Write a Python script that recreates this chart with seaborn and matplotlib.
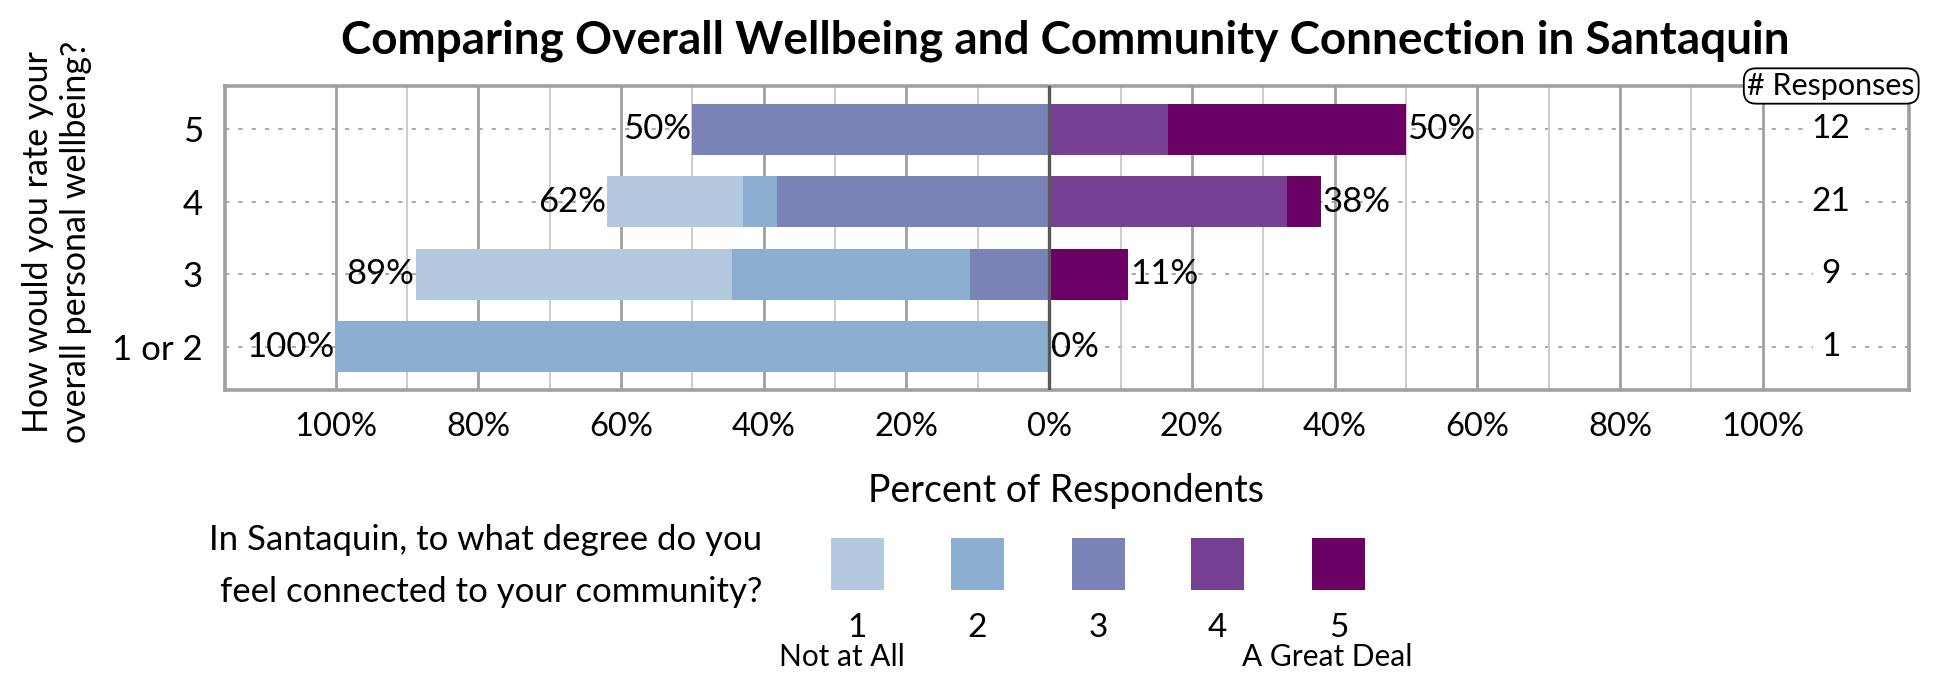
import matplotlib
matplotlib.use("Agg")
import matplotlib.pyplot as plt
import matplotlib.patches as mpatches
import seaborn as sns
import pandas as pd
import numpy as np

# ---- data ----
ratings = ["5", "4", "3", "1 or 2"]
pct_1 = [0.0, 19.0, 44.4, 0.0]
pct_2 = [0.0, 4.8, 33.3, 100.0]
pct_3 = [50.0, 38.1, 11.1, 0.0]
pct_4 = [16.7, 33.3, 0.0, 0.0]
pct_5 = [33.3, 4.8, 11.1, 0.0]
responses = [12, 21, 9, 1]
x_ticks = [-100, -80, -60, -40, -20, 0, 20, 40, 60, 80, 100]
legend_levels = ["1", "2", "3", "4", "5"]
colors = ["#B3C9E0", "#8CAED1", "#7A83B8", "#763F93", "#6B0065"]

title = "Comparing Overall Wellbeing and Community Connection in Santaquin"
ylabel = "How would you rate your\noverall personal wellbeing?"
xlabel = "Percent of Respondents"
legend_q = ["In Santaquin, to what degree do you", "feel connected to your community?"]

FONT = ["Lato", "DejaVu Sans"]
plt.rcParams["font.family"] = FONT

W, H = 1950, 675
fig = plt.figure(figsize=(W / 100, H / 100), dpi=100)
fx = lambda px: px / W
fy = lambda py: 1 - py / H

ax = fig.add_axes([fx(225), fy(390), (1909 - 225) / W, (390 - 86) / H])

df = pd.DataFrame({"rating": ratings, "p1": pct_1, "p2": pct_2, "p3": pct_3,
                   "p4": pct_4, "p5": pct_5})
df["neg1"] = -(df.p1 + df.p2 + df.p3)
df["neg2"] = -(df.p2 + df.p3)
df["neg3"] = -df.p3
df["pos5"] = df.p4 + df.p5
df["pos4"] = df.p4

layers = [("neg1", colors[0]), ("neg2", colors[1]), ("neg3", colors[2]),
          ("pos5", colors[4]), ("pos4", colors[3])]
for col, c in layers:
    sns.barplot(data=df, x=col, y="rating", order=ratings, orient="h",
                color=c, saturation=1, width=0.7, linewidth=0, ax=ax, zorder=3)

xmin, xmax = -115.5, 120.5
ax.set_xlim(xmin, xmax)
ax.set_ylim(len(ratings) - 1 + 0.6, -0.6)

# grid
for v in range(-100, 101, 10):
    if v == 0:
        continue
    if v % 20 == 0:
        ax.axvline(v, color="#a0a0a0", lw=2.0, zorder=1)
    else:
        ax.axvline(v, color="#cccccc", lw=1.4, zorder=0.9)
ax.axvline(0, color="#595959", lw=2.4, zorder=4)
for i in range(len(ratings)):
    ax.axhline(i, color="#999999", lw=1.2, ls=(0, (2.5, 5.5)), zorder=0.8)

for s in ax.spines.values():
    s.set_color("#a0a0a0")
    s.set_linewidth(2.6)

ax.set_xticks(x_ticks)
ax.set_xticklabels([f"{abs(v)}%" for v in x_ticks])
ax.tick_params(axis="x", length=0, pad=16, labelsize=23.5)
ax.tick_params(axis="y", length=0, pad=16, labelsize=25)
ax.set_xlabel("")
ax.set_ylabel("")

# bar value labels
for i, r in df.iterrows():
    neg = r.p1 + r.p2 + r.p3
    pos = r.p4 + r.p5
    ax.text(-neg - 0.2, i, f"{round(neg)}%", ha="right", va="center", fontsize=25, zorder=5)
    ax.text(pos + 0.2, i, f"{round(pos)}%", ha="left", va="center", fontsize=25, zorder=5)
    ax.text(109.6, i, f"{responses[i]}", ha="center", va="center", fontsize=24, zorder=5,
            bbox=dict(boxstyle="square,pad=0.25", fc="white", ec="none"))

ax.text(109.6, -0.6, "# Responses", ha="center", va="center", fontsize=22, zorder=6,
        clip_on=False,
        bbox=dict(boxstyle="round,pad=0.12,rounding_size=0.4", fc="white", ec="black", lw=1.3))

# titles
fig.text(fx(1065), fy(41), title, ha="center", va="center", fontsize=33, fontweight="bold")
fig.text(fx(57), fy(242), ylabel, ha="center", va="center", rotation=90, fontsize=24.5,
         multialignment="center", linespacing=1.25)
fig.text(fx(1066), fy(491), xlabel, ha="center", va="center", fontsize=27)

# legend
fig.text(fx(762), fy(540), legend_q[0], ha="right", va="center", fontsize=25)
fig.text(fx(762), fy(592), legend_q[1], ha="right", va="center", fontsize=25)
sq_left = [831, 951, 1072, 1191, 1312]
for lx, c, lab in zip(sq_left, colors, legend_levels):
    fig.patches.append(mpatches.Rectangle((fx(lx), fy(590)), 53 / W, 52 / H,
                                          transform=fig.transFigure, fc=c, ec="none"))
    fig.text(fx(lx + 26.5), fy(628), lab, ha="center", va="center", fontsize=24)
fig.text(fx(842), fy(657), "Not at All", ha="center", va="center", fontsize=21.5)
fig.text(fx(1327), fy(657), "A Great Deal", ha="center", va="center", fontsize=21.5)

fig.savefig("out.png", dpi=100, facecolor="white")
